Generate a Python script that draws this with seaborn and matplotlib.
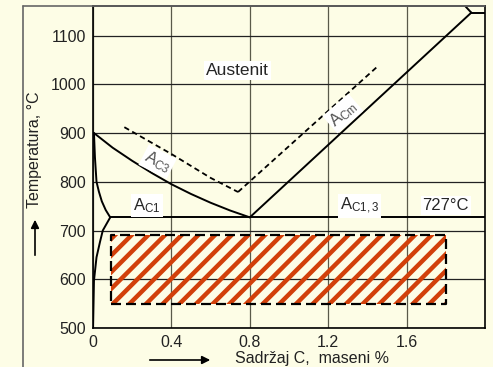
import matplotlib
matplotlib.use('Agg')
import matplotlib.pyplot as plt
import seaborn as sns
from matplotlib.lines import Line2D

# --- data (carbon mass %, temperature in degC) ---
a3_c = [0.005, 0.1, 0.2, 0.3, 0.4, 0.5, 0.6, 0.7, 0.8]
a3_t = [900, 870, 843, 818, 795, 775, 757, 741, 727]

gp_c = [0.005, 0.01, 0.018, 0.03, 0.045, 0.065, 0.088]
gp_t = [900, 850, 800, 780, 760, 742, 727]

pq_c = [0.088, 0.05, 0.036, 0.018, 0.005, 0.0]
pq_t = [727, 700, 677, 645, 597, 500]

acm_c = [0.8, 1.93]
acm_t = [727, 1147]

eut_c = [1.93, 2.0]
eut_t = [1147, 1147]
sol_c = [1.93, 1.90]
sol_t = [1147, 1160]

a1_c = [0.088, 2.0]
a1_t = [727, 727]

ac3_c = [0.16, 0.4, 0.6, 0.74]
ac3_t = [912, 857, 808, 779]
accm_c = [0.74, 1.45]
accm_t = [779, 1036]

zone_c = [0.09, 1.8]
zone_t = [550, 690]

x_ticks = [0, 0.4, 0.8, 1.2, 1.6]
x_labels = ['0', '0.4', '0.8', '1.2', '1.6']
y_ticks = [500, 600, 700, 800, 900, 1000, 1100]

bg = '#fdfde6'
hatch_col = '#d2400a'

sns.set_theme(style='whitegrid')
plt.rcParams['font.family'] = ['Liberation Sans', 'DejaVu Sans']
plt.rcParams['mathtext.fontset'] = 'custom'
plt.rcParams['mathtext.rm'] = 'Liberation Sans'
plt.rcParams['mathtext.it'] = 'Liberation Sans:italic'
plt.rcParams['hatch.linewidth'] = 3.2

fig = plt.figure(figsize=(4.93, 3.67), dpi=100, facecolor=bg)
ax = fig.add_axes([0.1886, 0.1063, 0.7952, 0.8765], facecolor=bg)

# hatched temperature zone
ax.fill_between(zone_c, zone_t[0], zone_t[1], facecolor='none',
                edgecolor=hatch_col, hatch='//', linewidth=0, zorder=2)
ax.plot([zone_c[0], zone_c[1], zone_c[1], zone_c[0], zone_c[0]],
        [zone_t[0], zone_t[0], zone_t[1], zone_t[1], zone_t[0]],
        color='black', lw=1.6, ls=(0, (4.5, 2.25)), zorder=3)

# solid equilibrium lines
for xs, ys in [(a3_c, a3_t), (gp_c, gp_t), (pq_c, pq_t), (acm_c, acm_t),
               (eut_c, eut_t), (sol_c, sol_t), (a1_c, a1_t)]:
    sns.lineplot(x=xs, y=ys, ax=ax, color='black', lw=1.4, sort=False,
                 estimator=None, zorder=4)

# dashed heating lines
for xs, ys in [(ac3_c, ac3_t), (accm_c, accm_t)]:
    sns.lineplot(x=xs, y=ys, ax=ax, color='black', lw=1.3, sort=False,
                 estimator=None, ls=(0, (3, 2)), zorder=4)

box = dict(facecolor='white', edgecolor='none', pad=1.5)
ax.text(0.735, 1029, 'Austenit', fontsize=12.5, ha='center', va='center', bbox=box, zorder=5)
ax.text(0.33, 841, r'A$_{\mathrm{C3}}$', fontsize=12, color='#555555', rotation=-27,
        ha='center', va='center', bbox=box, zorder=5)
ax.text(1.275, 940, r'A$_{\mathrm{Cm}}$', fontsize=12, color='#555555', rotation=41,
        ha='center', va='center', bbox=box, zorder=5)
ax.text(0.275, 751, r'A$_{\mathrm{C1}}$', fontsize=12, ha='center', va='center', bbox=box, zorder=5)
ax.text(1.36, 751, r'A$_{\mathrm{C1,3}}$', fontsize=12, ha='center', va='center', bbox=box, zorder=5)
ax.text(1.80, 752, '727°C', fontsize=12, ha='center', va='center', bbox=box, zorder=5)

ax.set_xlim(0, 2.0)
ax.set_ylim(500, 1160)
ax.set_xticks(x_ticks)
ax.set_xticklabels(x_labels)
ax.set_yticks(y_ticks)
ax.tick_params(length=0, pad=5, labelsize=11.5, labelcolor='#222222')
ax.set_axisbelow(True)
ax.xaxis.grid(True, color='#5a5a4a', lw=0.9)
ax.yaxis.grid(True, color='#222222', lw=0.9)
for s in ax.spines.values():
    s.set_visible(True)
    s.set_color('black')
    s.set_linewidth(1.2)

# axis titles with arrows
fig.text(35 / 493, 1 - 150 / 367, 'Temperatura, °C', rotation=90, fontsize=11.5,
         ha='center', va='center', color='#222222')
fig.add_artist(matplotlib.patches.FancyArrowPatch(
    (35 / 493, 1 - 258 / 367), (35 / 493, 1 - 217 / 367), transform=fig.transFigure,
    arrowstyle='-|>', mutation_scale=12, color='black', lw=1.2))
fig.text(312 / 493, 1 - 358 / 367, 'Sadržaj C,  maseni %', fontsize=11.5,
         ha='center', va='center', color='#222222')
fig.add_artist(matplotlib.patches.FancyArrowPatch(
    (147 / 493, 1 - 360 / 367), (213 / 493, 1 - 360 / 367), transform=fig.transFigure,
    arrowstyle='-|>', mutation_scale=12, color='black', lw=1.2))

# outer frame (left and top edges)
fig.add_artist(Line2D([23 / 493, 23 / 493], [0, 1 - 6 / 367], transform=fig.transFigure,
                      color='#666666', lw=1.2))
fig.add_artist(Line2D([23 / 493, 485 / 493], [1 - 6 / 367, 1 - 6 / 367],
                      transform=fig.transFigure, color='#666666', lw=1.2))

fig.savefig('out.png', dpi=100, facecolor=bg)
